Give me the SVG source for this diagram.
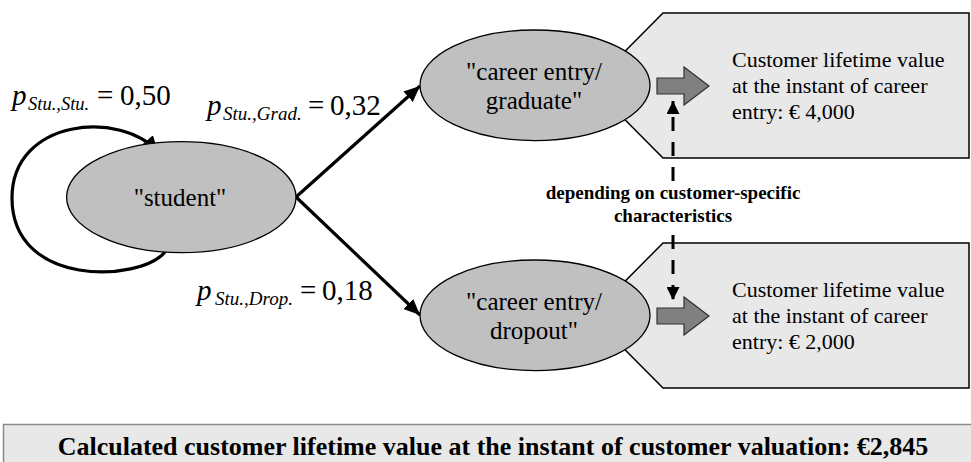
<svg xmlns="http://www.w3.org/2000/svg" width="971" height="462" viewBox="0 0 971 462">
<style>
.ser{font-family:"Liberation Serif","Times New Roman",serif;fill:#000}
.node{fill:#c0c0c0;stroke:#000;stroke-width:1.3}
.pent{fill:#e8e8e8;stroke:#000;stroke-width:1.5}
.blk{fill:#808080;stroke:#303030;stroke-width:1.2}
.lbl{font-size:25px}
.ptxt{font-size:22px}
.conn{fill:none;stroke:#000;stroke-width:3.2}
.dash{fill:none;stroke:#000;stroke-width:3;stroke-dasharray:14 11}
.it{font-style:italic}
</style>
<defs>
<marker id="ah" markerUnits="userSpaceOnUse" markerWidth="17" markerHeight="14" refX="16" refY="7" orient="auto">
<path d="M0,0 L16,7 L0,14 z" fill="#000"/>
</marker>
<marker id="ahd" markerUnits="userSpaceOnUse" markerWidth="14" markerHeight="13" refX="13" refY="6.5" orient="auto">
<path d="M0,0 L13,6.5 L0,13 z" fill="#000"/>
</marker>
</defs>
<rect width="971" height="462" fill="#fff"/>

<g id="value-graduate">
<polygon class="pent" points="591,85.5 663,13 969,13 969,158 663,158"/>
<polygon class="blk" points="657,78 684,78 684,67 709,86 684,105 684,94 657,94"/>
<text class="ser ptxt" x="732" y="67">Customer lifetime value</text>
<text class="ser ptxt" x="732" y="93">at the instant of career</text>
<text class="ser ptxt" x="732" y="119">entry: € 4,000</text>
</g>

<g id="value-dropout">
<polygon class="pent" points="591,315.5 663,243 969,243 969,388 663,388"/>
<polygon class="blk" points="657,308 684,308 684,297 709,316 684,335 684,324 657,324"/>
<text class="ser ptxt" x="732" y="297">Customer lifetime value</text>
<text class="ser ptxt" x="732" y="323">at the instant of career</text>
<text class="ser ptxt" x="732" y="349">entry: € 2,000</text>
</g>

<g id="connectors">
<path class="conn" d="M165,252 C140,282 12,288 12,198 C12,118 122,110 158,152" marker-end="url(#ah)"/>
<line class="conn" x1="296" y1="197" x2="420" y2="86" marker-end="url(#ah)"/>
<line class="conn" x1="296" y1="197" x2="420" y2="315" marker-end="url(#ah)"/>
<line class="dash" x1="673" y1="181" x2="673" y2="101" marker-end="url(#ahd)"/>
<line class="dash" x1="673" y1="235" x2="673" y2="300" marker-end="url(#ahd)"/>
</g>

<g id="student">
<ellipse class="node" cx="181.3" cy="197.2" rx="114.7" ry="55.5"/>
<text class="ser lbl" x="180" y="206" text-anchor="middle">"student"</text>
</g>

<g id="graduate">
<ellipse class="node" cx="535" cy="85.3" rx="115" ry="55.3"/>
<text class="ser lbl" x="534" y="80" text-anchor="middle">"career entry/</text>
<text class="ser lbl" x="534" y="109" text-anchor="middle">graduate"</text>
</g>

<g id="dropout">
<ellipse class="node" cx="535" cy="315.3" rx="115" ry="55.3"/>
<text class="ser lbl" x="534" y="310" text-anchor="middle">"career entry/</text>
<text class="ser lbl" x="534" y="339" text-anchor="middle">dropout"</text>
</g>

<g id="labels">
<text class="ser it" x="12" y="105" font-size="29">p</text>
<text class="ser it" x="28" y="110" font-size="18.5">Stu.,Stu.</text>
<text class="ser" x="97" y="105" font-size="29">=</text>
<text class="ser" x="120" y="105" font-size="29">0,50</text>

<text class="ser it" x="207" y="115" font-size="29">p</text>
<text class="ser it" x="223" y="120" font-size="19">Stu.,Grad.</text>
<text class="ser" x="308" y="115" font-size="29">=</text>
<text class="ser" x="330" y="115" font-size="29">0,32</text>

<text class="ser it" x="197" y="300" font-size="29">p</text>
<text class="ser it" x="215" y="305" font-size="19">Stu.,Drop.</text>
<text class="ser" x="300" y="300" font-size="29">=</text>
<text class="ser" x="322" y="300" font-size="29">0,18</text>

<text class="ser" x="673" y="199" font-size="19" font-weight="bold" text-anchor="middle">depending on customer-specific</text>
<text class="ser" x="673" y="222" font-size="19" font-weight="bold" text-anchor="middle">characteristics</text>
</g>

<g id="result">
<rect x="3.5" y="424.5" width="980" height="50" fill="#e8e8e8" stroke="#8a8a8a" stroke-width="1.5"/>
<text class="ser" x="493" y="455" font-size="26" font-weight="bold" text-anchor="middle">Calculated customer lifetime value at the instant of customer valuation: €2,845</text>
</g>
</svg>
